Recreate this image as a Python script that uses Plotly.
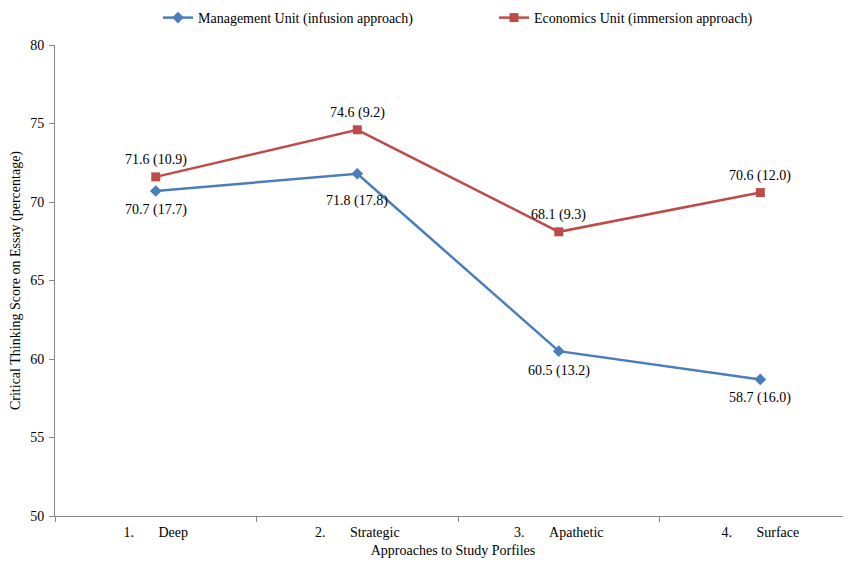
import plotly.graph_objects as go

categories = ["1.\u00a0\u00a0\u00a0\u00a0\u00a0\u00a0\u00a0Deep", "2.\u00a0\u00a0\u00a0\u00a0\u00a0\u00a0\u00a0Strategic",
              "3.\u00a0\u00a0\u00a0\u00a0\u00a0\u00a0\u00a0Apathetic", "4.\u00a0\u00a0\u00a0\u00a0\u00a0\u00a0\u00a0Surface"]
mgmt_mean = [70.7, 71.8, 60.5, 58.7]
mgmt_sd = [17.7, 17.8, 13.2, 16.0]
econ_mean = [71.6, 74.6, 68.1, 70.6]
econ_sd = [10.9, 9.2, 9.3, 12.0]

font = "Liberation Serif, Times New Roman, serif"
blue = "#4A7EBB"
red = "#BE4B48"

fig = go.Figure()
fig.add_trace(go.Scatter(
    x=categories, y=mgmt_mean, mode="lines+markers",
    name="Management Unit (infusion approach)",
    line=dict(color=blue, width=2.5),
    marker=dict(symbol="diamond", size=9, color=blue),
))
fig.add_trace(go.Scatter(
    x=categories, y=econ_mean, mode="lines+markers",
    name="Economics Unit (immersion approach)",
    line=dict(color=red, width=2.5),
    marker=dict(symbol="square", size=9, color=red),
))

mgmt_shift = [-19, -27, -20, -19]
for c, m, s, dy in zip(categories, mgmt_mean, mgmt_sd, mgmt_shift):
    fig.add_annotation(x=c, y=m, text=f"{m:.1f} ({s:.1f})", showarrow=False,
                       yanchor="middle", yshift=dy, font=dict(family=font, size=14, color="#000"))
for c, m, s in zip(categories, econ_mean, econ_sd):
    fig.add_annotation(x=c, y=m, text=f"{m:.1f} ({s:.1f})", showarrow=False,
                       yanchor="middle", yshift=16.5, font=dict(family=font, size=14, color="#000"))

fig.update_layout(
    width=851, height=563,
    margin=dict(l=47, r=8, t=37, b=55, autoexpand=False),
    paper_bgcolor="white", plot_bgcolor="white",
    font=dict(family=font, size=14, color="#000"),
    legend=dict(orientation="h", x=150/851, xanchor="left", y=1 - 10/563, yanchor="middle",
                yref="container", xref="container", font=dict(family=font, size=14),
                entrywidth=291, itemwidth=30),
    xaxis=dict(
        type="category", range=[-0.5, 3.45], showline=True, linecolor="#888", linewidth=1,
        ticks="outside", tickson="boundaries", ticklen=5, tickcolor="#888",
        showgrid=False, zeroline=False, ticklabelstandoff=3,
        title=dict(text="Approaches to Study Porfiles", font=dict(family=font, size=14), standoff=6),
        tickfont=dict(family=font, size=14),
    ),
    yaxis=dict(
        range=[50, 80], dtick=5, showline=True, linecolor="#888", linewidth=1,
        ticks="outside", ticklen=5, tickcolor="#888", showgrid=False, zeroline=False,
        ticklabelstandoff=2,
        title=dict(text="Critical Thinking Score on Essay (percentage)", font=dict(family=font, size=14), standoff=7),
        tickfont=dict(family=font, size=14),
    ),
)

fig.write_html("out.html")
